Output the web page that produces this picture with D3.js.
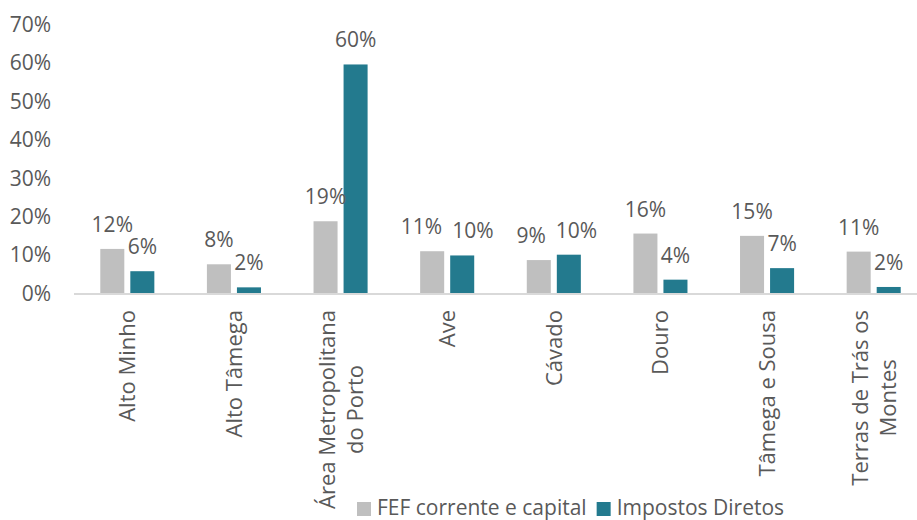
<!DOCTYPE html>
<html lang="pt">
<head>
<meta charset="UTF-8">
<title>FEF vs Impostos Diretos</title>
<style>
  body { margin: 0; background: #fff; }
  text { font-family: "Open Sans", sans-serif; fill: #595959; }
  .tick-label, .val, .legend text { font-size: 21px; }
  .cat { font-size: 22px; }
</style>
</head>
<body>
<svg width="917" height="520"></svg>
<script src="https://cdn.jsdelivr.net/npm/d3@7"></script>
<script>
// regions (labels may break in two lines)
var categories = [
  ["Alto Minho"],
  ["Alto Tâmega"],
  ["Área Metropolitana", "do Porto"],
  ["Ave"],
  ["Cávado"],
  ["Douro"],
  ["Tâmega e Sousa"],
  ["Terras de Trás os", "Montes"]
];
var fef = [0.116, 0.076, 0.188, 0.110, 0.087, 0.156, 0.150, 0.109];
var impostos = [0.058, 0.016, 0.596, 0.099, 0.101, 0.036, 0.066, 0.017];
var seriesNames = ["FEF corrente e capital", "Impostos Diretos"];
var colors = ["#BFBFBF", "#237A8E"];
var yTicks = [0, 0.1, 0.2, 0.3, 0.4, 0.5, 0.6, 0.7];

var svg = d3.select("svg");
var pct = d3.format(".0%");

var x0 = d3.scaleBand()
  .domain(d3.range(categories.length))
  .range([74, 927])
  .paddingInner(0.493)
  .paddingOuter(0.2465);

var x1 = d3.scaleBand()
  .domain([0, 1])
  .range([0, x0.bandwidth()])
  .paddingInner(0.2);

var y = d3.scaleLinear().domain([0, 0.7]).range([293.5, 24.5]);

// y axis labels only (no line, no gridlines)
svg.append("g").selectAll("text")
  .data(yTicks)
  .enter().append("text")
  .attr("class", "tick-label")
  .attr("x", 51)
  .attr("y", function (d) { return y(d); })
  .attr("dy", "0.35em")
  .attr("text-anchor", "end")
  .text(function (d) { return pct(d); });

// bars
var rows = categories.map(function (c, i) { return [fef[i], impostos[i]]; });

var group = svg.append("g").selectAll("g")
  .data(rows)
  .enter().append("g")
  .attr("transform", function (d, i) { return "translate(" + x0(i) + ",0)"; });

group.selectAll("rect")
  .data(function (d) { return d; })
  .enter().append("rect")
  .attr("x", function (d, j) { return x1(j); })
  .attr("y", function (d) { return y(d); })
  .attr("width", x1.bandwidth())
  .attr("height", function (d) { return y(0) - y(d); })
  .attr("fill", function (d, j) { return colors[j]; });

group.each(function (d) {
  var labels = d3.select(this).selectAll("text.val")
    .data(d)
    .enter().append("text")
    .attr("class", "val")
    .attr("x", function (v, j) { return x1(j) + x1.bandwidth() / 2; })
    .attr("y", function (v) { return y(v) - 17; })
    .attr("text-anchor", "middle")
    .text(function (v) { return pct(v); });
  // push the two labels apart when they would collide
  var n = labels.nodes();
  var a = n[0].getBBox(), b = n[1].getBBox();
  var vOverlap = a.y < b.y + b.height - 6 && b.y < a.y + a.height - 6;
  var gap = b.x - (a.x + a.width);
  if (vOverlap && gap < 10) {
    var shift = (10 - gap) / 2;
    d3.select(n[0]).attr("x", +d3.select(n[0]).attr("x") - shift);
    d3.select(n[1]).attr("x", +d3.select(n[1]).attr("x") + shift);
  }
});

// x axis line
svg.append("line")
  .attr("x1", 74).attr("x2", 917)
  .attr("y1", y(0) + 0.5).attr("y2", y(0) + 0.5)
  .attr("stroke", "#D9D9D9")
  .attr("stroke-width", 2);

// category labels, rotated
var lineGap = 28;
var cat = svg.append("g").selectAll("g")
  .data(categories)
  .enter().append("g");

cat.each(function (lines, i) {
  var g = d3.select(this);
  var cx = x0(i) + x0.bandwidth() / 2;
  var t = g.selectAll("text")
    .data(lines)
    .enter().append("text")
    .attr("class", "cat")
    .attr("text-anchor", "middle")
    .text(function (d) { return d; });
  var maxLen = 0;
  t.each(function () { maxLen = Math.max(maxLen, this.getComputedTextLength()); });
  var cy = 310 + maxLen / 2;
  var off = (lines.length - 1) * lineGap / 2;
  t.attr("transform", function (d, k) {
    var lx = cx - off + k * lineGap;
    return "translate(" + (lx + 8) + "," + cy + ") rotate(-90)";
  });
});

// legend
var legend = svg.append("g").attr("class", "legend").attr("transform", "translate(357,508)");
var lx = 0;
seriesNames.forEach(function (name, i) {
  legend.append("rect")
    .attr("x", lx).attr("y", -6)
    .attr("width", 14).attr("height", 14)
    .attr("fill", colors[i]);
  var t = legend.append("text")
    .attr("x", lx + 20)
    .attr("y", 0)
    .attr("dy", "0.35em")
    .text(name);
  lx += 20 + t.node().getComputedTextLength() + 10;
});
</script>
</body>
</html>
